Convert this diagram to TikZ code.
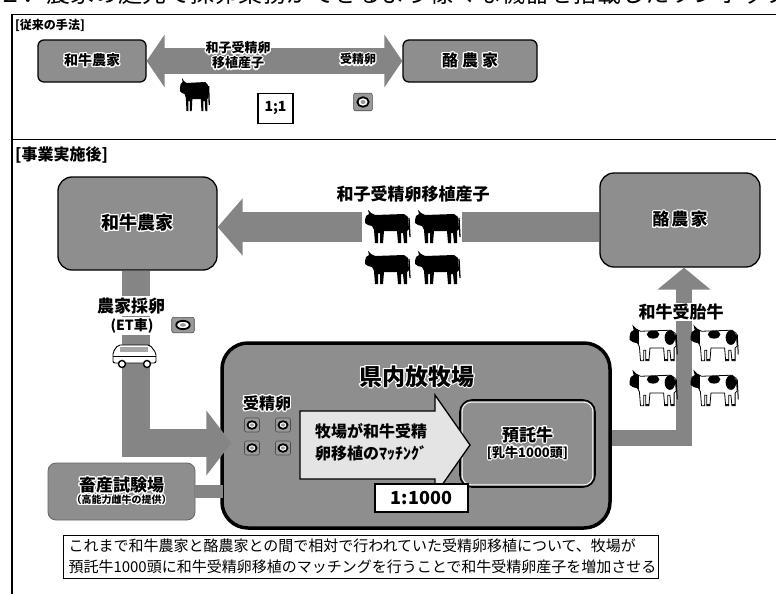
\documentclass[tikz,border=0pt]{standalone}
\usepackage{fontspec}
\setmainfont{Noto Sans CJK JP}
\usepackage{contour}
\contourlength{1.1pt}
\usetikzlibrary{arrows.meta,calc}

\definecolor{boxgray}{HTML}{8E8E8E}
\definecolor{arrowgray}{HTML}{858585}
\definecolor{palegray}{HTML}{E4E4E4}
\definecolor{dishgray}{HTML}{9A9A9A}

\newcommand\jfs[2]{\fontsize{#1}{#2}\selectfont}
\newcommand\halo[1]{\contour{white}{#1}}

\tikzset{
  graybox/.style={draw=black, line width=1.3pt, fill=boxgray, inner sep=0pt, align=center},
  flow/.style={draw=arrowgray, line join=miter},
  tag/.style={inner sep=1pt, font=\bfseries},
  cowpath/.style={insert path={(0,10) -- (1,6) -- (4,4) -- (3,0) -- (6,3) -- (10,5) -- (39,4) -- (43,7) -- (44,19) -- (42,21) -- (42,33) -- (39,33) -- (38,23) -- (36,23) -- (36,33) -- (33,33) -- (32,21) -- (19,21) -- (18,33) -- (15,33) -- (15,23) -- (13,23) -- (13,33) -- (10,33) -- (9,20) -- (7,16) -- (3,15) -- (0,13) -- cycle}},
  blackcow/.pic={
    \fill[cowpath];
    \draw[line width=1.3pt] (44,8) -- (45,27);
  },
  holstein/.pic={
    \filldraw[fill=white, draw=black, line width=0.8pt, cowpath];
    \begin{scope}
      \clip[cowpath];
      \fill (-1,-1) rectangle (9,17);
      \fill (22,8) ellipse (6 and 4);
      \fill (38,11) ellipse (5 and 7);
      \fill (12,31) rectangle (19,34);
      \fill (32,31) rectangle (43,34);
    \end{scope}
    \draw[line width=1pt] (44,8) -- (45,27);
  },
  dish/.pic={
    \filldraw[fill=dishgray, draw=black!70, line width=0.6pt, rounded corners=2pt] (-7.5,-7) rectangle (7.5,7);
    \draw[line width=1.8pt, fill=white] (0,0) ellipse (4.5 and 3.8);
    \fill[dishgray] (0,0) ellipse (2 and 1.6);
  },
  van/.pic={
    \filldraw[fill=white, draw=black, line width=0.9pt, rounded corners=2pt] (1,20) -- (1,9) -- (6,2) -- (38,2) -- (44,10) -- (44,20) -- cycle;
    \fill[gray!70] (8,4) rectangle (36,9);
    \draw[line width=0.6pt] (1,13) -- (44,13);
    \filldraw[fill=white, draw=black, line width=1.4pt] (10,21) circle (3.5) (35,21) circle (3.5);
  },
}

\begin{document}
\begin{tikzpicture}[x=1pt, y=-1pt]
\useasboundingbox (0,0) rectangle (776,594);
\clip (0,0) rectangle (776,594);
\fill[white] (0,0) rectangle (776,594);

% heading line (runs off the top edge)
\node[anchor=base west, inner sep=0pt, font=\jfs{24}{28}] (heading) at (-2,3)
  {２．農家の庭先で採卵業務ができるよう様々な機器を搭載したワンボックス車};

% frame and section divider
\draw[line width=1.3pt] (776,14.5) -- (12,14.5) -- (12,594);
\draw[line width=1.6pt] (12,139.5) -- (776,139.5);

% ---------- former method ----------
\node[anchor=west, tag, font=\bfseries\jfs{12}{14}] (secOld) at (14,25) {[従来の手法]};

\node[graybox, rounded corners=6pt, minimum width=108pt, minimum height=42pt, font=\bfseries\jfs{14}{16}] (oldWagyu) at (92,61) {\halo{和牛農家}};
\node[graybox, rounded corners=6pt, minimum width=134pt, minimum height=42pt, font=\bfseries\jfs{16}{18}] (oldDairy) at (470,61) {\halo{酪\hspace{4pt}農\hspace{4pt}家}};
\draw[flow, line width=26pt, {Triangle[length=18pt,width=52pt]}-{Triangle[length=18pt,width=52pt]}] (oldWagyu.east) -- (oldDairy.west);

\node[tag, align=center, font=\bfseries\jfs{13}{15}] (oldCalf) at (238,56) {\halo{和子受精卵}\\\halo{移植産子}};
\node[tag, font=\bfseries\jfs{12}{14}] (oldEmb) at (358,60) {\halo{受精卵}};
\pic[xscale=0.65] at (180,78) {blackcow};
\pic[scale=1.25] at (363,102) {dish};
\node[draw, line width=1.3pt, fill=white, minimum width=35pt, minimum height=30pt, font=\bfseries\jfs{14}{16}] (ratioOne) at (275.5,108.5) {1;1};

% ---------- after the project ----------
\node[anchor=west, tag, font=\bfseries\jfs{16}{18}] (secNew) at (14,155) {[事業実施後]};

\node[graybox, rounded corners=14pt, minimum width=159pt, minimum height=93pt, font=\bfseries\jfs{18}{20}] (wagyu) at (137.5,223.5) {\halo{和牛農家}};
\node[graybox, rounded corners=14pt, minimum width=160pt, minimum height=94pt, font=\bfseries\jfs{17}{19}] (dairy) at (680,220) {\halo{酪\hspace{2pt}農\hspace{2pt}家}};

% calves sent back to the wagyu farmer
\coordinate (calfLevel) at (0,227);
\draw[flow, line width=30pt, -{Triangle[length=25pt,width=56pt]}] (dairy.west |- calfLevel) -- (wagyu.east |- calfLevel);
\node[fill=white, inner sep=0pt, minimum width=100pt, minimum height=82pt] (calves) at (412,248) {};
\pic at (365,210) {blackcow};
\pic at (415,210) {blackcow};
\pic at (365,251) {blackcow};
\pic at (415,251) {blackcow};
\node[tag, font=\bfseries\jfs{17}{19}] (calfLbl) at (413,194) {和子受精卵移植産子};

% pregnant cows returned to the dairy farmer
\coordinate (turnR) at (684,438);
\draw[flow, line width=16pt, -{Triangle[length=22pt,width=52pt]}] (600,438) -- (turnR) -- (turnR |- dairy.south);

% county pasture
\node[draw, line width=3.5pt, fill=boxgray, rounded corners=26pt, minimum width=388pt, minimum height=185pt] (farm) at (416,435.5) {};
\node[tag, font=\bfseries\jfs{23}{25}] (farmTitle) at (417,377) {\halo{県内放牧場}};

\node[tag, font=\bfseries\jfs{16}{18}] (embLbl) at (267,404) {\halo{受精卵}};
\pic at (252,425) {dish};
\pic at (283,425) {dish};
\pic at (252,448) {dish};
\pic at (283,448) {dish};

\node[graybox, line width=1.6pt, rounded corners=12pt, minimum width=135pt, minimum height=87pt] (deposit) at (527.5,443.5)
  {\jfs{17}{22}\bfseries\halo{預託牛}\\[1pt]\jfs{13}{17}\bfseries\halo{[乳牛1000頭]}};
\draw[white, line width=0.8pt, rounded corners=9pt] ($(deposit.south west)+(3,-3)$) rectangle ($(deposit.north east)+(-3,3)$);

% matching arrow
\draw[fill=palegray, line width=1.3pt, line join=miter] (300,411) -- (435,411) -- (435,395) -- (470,445) -- (435,495) -- (435,479) -- (300,479) -- cycle;
\node[anchor=west, align=left, inner sep=0pt, font=\bfseries\jfs{16}{22}] (matchTxt) at (315,442) {牧場が和牛受精\\卵移植のﾏｯﾁﾝｸﾞ};

\node[draw, line width=1.3pt, fill=white, minimum width=93pt, minimum height=28pt, font=\bfseries\jfs{18}{20}] (ratioK) at (421.5,498) {1:1000};

% egg collection by the ET van
\coordinate (turnL) at (136,443);
\draw[flow, line width=28pt, -{Triangle[length=25pt,width=64pt]}] (wagyu.south -| turnL) -- (turnL) -- ($(farm.west |- turnL)+(11,0)$);
\node[fill=white, inner sep=2pt, font=\bfseries\jfs{17}{19}] (collect) at (131,306) {農家採卵};
\node[fill=white, inner sep=2pt, font=\bfseries\jfs{14}{16}] (etVan) at (132,326) {(ET車)};
\pic[xscale=1.5, yscale=1.1] at (183,325) {dish};
\pic at (112,343) {van};

% livestock research station
\node[graybox, draw=black!60, line width=0.8pt, rounded corners=8pt, minimum width=147pt, minimum height=57pt] (lab) at (121.5,491.5)
  {\jfs{17}{22}\bfseries\halo{畜産試験場}\\\jfs{10}{12}\bfseries\halo{（高能力雌牛の提供）}};
\draw[flow, line width=13pt] (lab.east) -- ($(farm.west |- lab.east)+(3,0)$);

% pregnant cows label and cows
\node[fill=white, inner sep=1pt, font=\bfseries\jfs{17}{19}] (pregLbl) at (681,312) {和牛受胎牛};
\pic[scale=1.05] at (630,326) {holstein};
\pic[scale=1.05] at (691,326) {holstein};
\pic[scale=1.05] at (630,371) {holstein};
\pic[scale=1.05] at (691,371) {holstein};

% summary note
\node[draw, line width=1pt, fill=white, minimum width=595pt, minimum height=43pt, text width=585pt, align=left, inner sep=0pt, font=\jfs{15}{21}] (note) at (361,556.5)
  {これまで和牛農家と酪農家との間で相対で行われていた受精卵移植について、牧場が\\預託牛1000頭に和牛受精卵移植のマッチングを行うことで和牛受精卵産子を増加させる};
\end{tikzpicture}
\end{document}
